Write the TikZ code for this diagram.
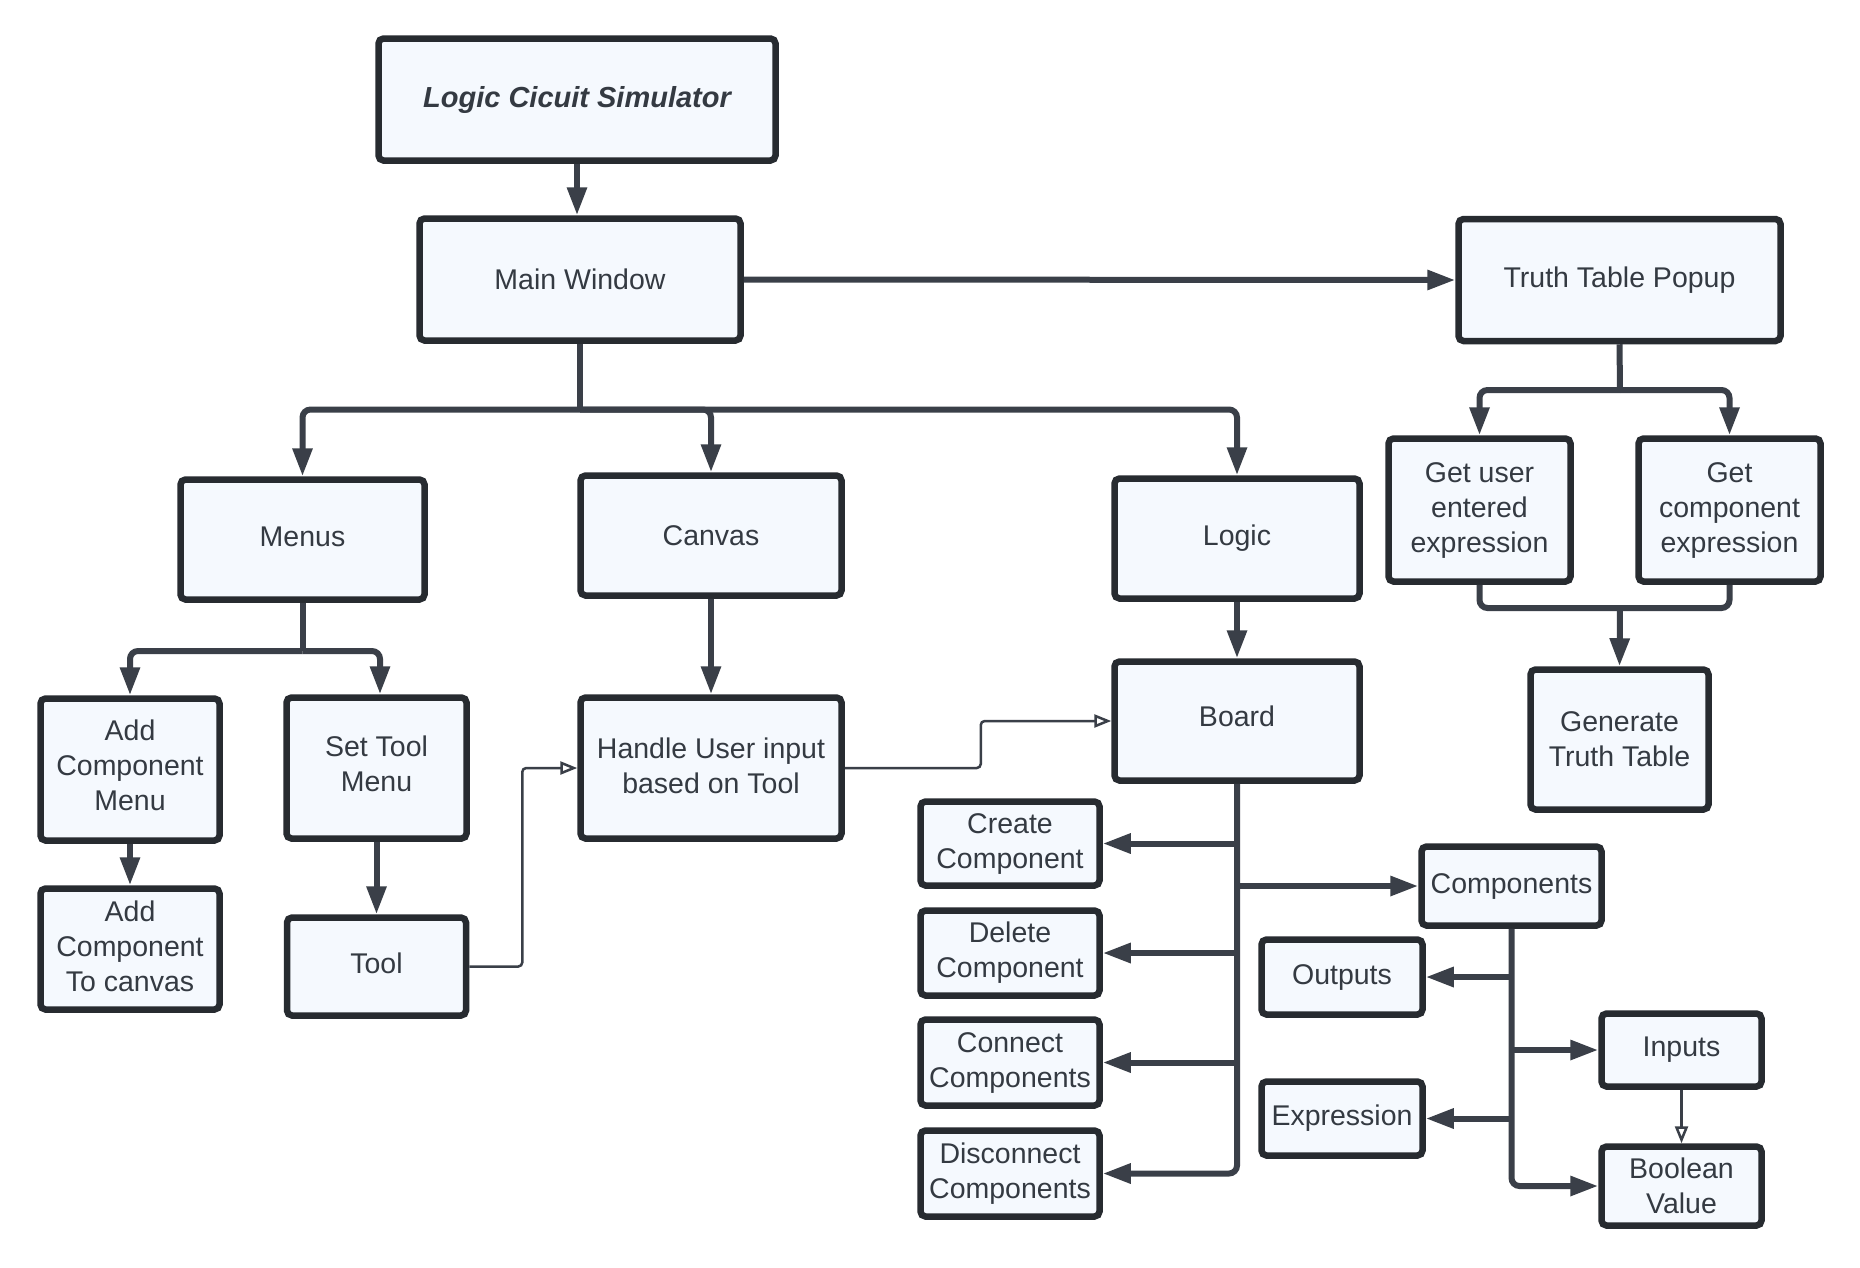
\documentclass[tikz,border=0pt]{standalone}
\usepackage{fontspec}
\setmainfont{Liberation Sans}
\usetikzlibrary{arrows.meta}
\definecolor{bordc}{HTML}{272B30}
\definecolor{linec}{HTML}{3A3F48}
\definecolor{fillc}{HTML}{F5F9FE}
\definecolor{txtc}{HTML}{343A42}
\begin{document}
\begin{tikzpicture}[x=1pt,y=-1pt,
  box/.style={draw=bordc, line width=6.5pt, fill=fillc, rounded corners=5pt, align=center,
    font=\fontsize{28.5}{35}\selectfont, text=txtc, inner sep=0pt},
  conn/.style={draw=linec, line width=6pt, -{Triangle[length=28pt,width=19pt]}},
  trunk/.style={draw=linec, line width=6pt},
  thinc/.style={draw=linec, line width=2.5pt, rounded corners=4pt, -{Triangle[open,length=17pt,width=13pt,line width=2.5pt]}}
]
\useasboundingbox (0,0) rectangle (1860,1267);
\fill[white] (0,0) rectangle (1860,1267);

% nodes
\node[box, minimum width=397pt, minimum height=122pt, font=\fontsize{29}{35}\selectfont\bfseries\itshape] (lcs) at (577,99.5) {Logic Cicuit Simulator};
\node[box, minimum width=321pt, minimum height=122pt] (mw) at (580,279.5) {Main Window};
\node[box, minimum width=322pt, minimum height=122pt] (ttp) at (1619.5,280) {Truth Table Popup};
\node[box, minimum width=244pt, minimum height=120pt, text depth=5pt] (menus) at (302.5,539.5) {Menus};
\node[box, minimum width=261pt, minimum height=120pt] (canvas) at (711,535.5) {Canvas};
\node[box, minimum width=245pt, minimum height=120pt] (logic) at (1237,538.5) {Logic};
\node[box, minimum width=182pt, minimum height=143pt] (gue) at (1479.5,510) {Get user\\entered\\expression};
\node[box, minimum width=182pt, minimum height=143pt] (gce) at (1729.5,510) {Get\\component\\expression};
\node[box, minimum width=178pt, minimum height=140pt] (gtt) at (1619.5,739.5) {Generate\\Truth Table};
\node[box, minimum width=179pt, minimum height=142pt, text depth=9pt] (acm) at (130,769.5) {Add\\Component\\Menu};
\node[box, minimum width=180pt, minimum height=141pt, text depth=9pt] (stm) at (376.5,768) {Set Tool\\Menu};
\node[box, minimum width=179pt, minimum height=121pt, text depth=6pt] (act) at (130,949) {Add\\Component\\To canvas};
\node[box, minimum width=179pt, minimum height=98pt, text depth=7pt] (tool) at (376.5,966.5) {Tool};
\node[box, minimum width=261pt, minimum height=141pt, text depth=4pt] (hui) at (711,768) {Handle User input\\based on Tool};
\node[box, minimum width=245pt, minimum height=119pt, text depth=9pt] (board) at (1237,721) {Board};
\node[box, minimum width=179pt, minimum height=84pt] (cc) at (1010,843.5) {Create\\Component};
\node[box, minimum width=179pt, minimum height=85pt] (dc) at (1010,953) {Delete\\Component};
\node[box, minimum width=179pt, minimum height=86pt] (conc) at (1010,1062.5) {Connect\\Components};
\node[box, minimum width=179pt, minimum height=86pt] (disc) at (1010,1173.5) {Disconnect\\Components};
\node[box, minimum width=180pt, minimum height=79pt] (comps) at (1511.5,886) {Components};
\node[box, minimum width=161pt, minimum height=75pt] (outs) at (1342,977) {Outputs};
\node[box, minimum width=160pt, minimum height=73pt] (inputs) at (1681.5,1050) {Inputs};
\node[box, minimum width=161pt, minimum height=74pt] (expr) at (1342,1118.5) {Expression};
\node[box, minimum width=160pt, minimum height=79pt] (bool) at (1681.5,1186) {Boolean\\Value};

% junctions
\coordinate (j1) at (580,409.5);
\coordinate (j2) at (302.5,651);
\coordinate (j3) at (1620,390);
\coordinate (j4) at (1620,608);

% connectors
\draw[conn] (lcs.south) -- (lcs.south |- mw.north);
\draw[conn] (mw.east) -- (ttp.west);

\draw[trunk] (mw.south) -- (j1);
\draw[conn, rounded corners=8pt] (j1) -| (menus.north);
\draw[conn, rounded corners=8pt] (j1) -| (canvas.north);
\draw[conn, rounded corners=8pt] (j1) -| (logic.north);

\draw[trunk] (menus.south) -- (j2);
\draw[conn, rounded corners=8pt] (j2) -| (acm.north);
\draw[conn, rounded corners=8pt] (j2) -| ([xshift=3.5pt]stm.north);

\draw[conn] (acm.south) -- (act.north);
\draw[conn] (stm.south) -- (tool.north);
\draw[conn] (canvas.south) -- (hui.north);
\draw[conn] (logic.south) -- (board.north);

\draw[thinc] (tool.east) -- ++(53,0) |- (hui.west);
\draw[thinc] (hui.east) -- ++(136,0) |- (board.west);

% board trunk
\draw[conn, rounded corners=8pt] (board.south) |- (disc.east);
\draw[conn] (board.south |- cc.east) -- (cc.east);
\draw[conn] (board.south |- dc.east) -- (dc.east);
\draw[conn] (board.south |- conc.east) -- (conc.east);
\draw[conn] (board.south |- comps.west) -- (comps.west);

% components trunk
\draw[conn, rounded corners=8pt] (comps.south) |- (bool.west);
\draw[conn] (comps.south |- outs.east) -- (outs.east);
\draw[conn] (comps.south |- inputs.west) -- (inputs.west);
\draw[conn] (comps.south |- expr.east) -- (expr.east);
\draw[thinc] (inputs.south) -- (bool.north);

% truth table
\draw[trunk] (ttp.south) -- (j3);
\draw[conn, rounded corners=8pt] (j3) -| (gue.north);
\draw[conn, rounded corners=8pt] (j3) -| (gce.north);
\draw[trunk, rounded corners=8pt] (gue.south) |- (j4);
\draw[trunk, rounded corners=8pt] (gce.south) |- (j4);
\draw[conn] (j4) -- (gtt.north);
\end{tikzpicture}
\end{document}
